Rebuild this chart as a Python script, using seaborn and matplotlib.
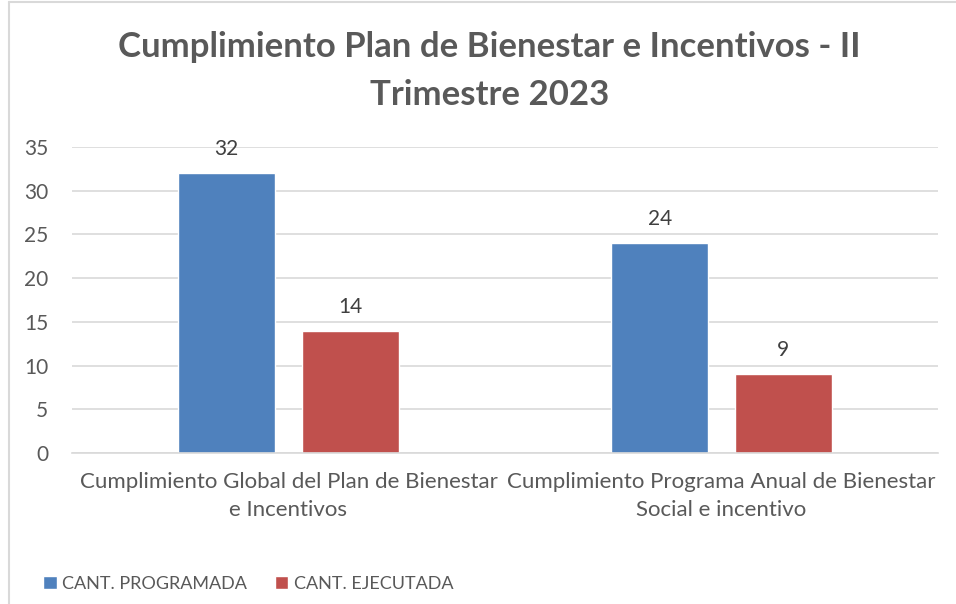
import matplotlib
matplotlib.use("Agg")
import matplotlib.pyplot as plt
import seaborn as sns
import pandas as pd
from matplotlib.patches import Patch
from matplotlib.lines import Line2D

categories = ["Cumplimiento Global del Plan de Bienestar\ne Incentivos",
              "Cumplimiento Programa Anual de Bienestar\nSocial e incentivo"]
series = ["CANT. PROGRAMADA", "CANT. EJECUTADA"]
programada = [32, 24]
ejecutada = [14, 9]
colors = ["#4F81BD", "#C0504D"]

df = pd.DataFrame({
    "cat": categories * 2,
    "serie": [series[0]] * 2 + [series[1]] * 2,
    "valor": programada + ejecutada,
})

sns.set_style("white")
plt.rcParams["font.family"] = ["Lato", "DejaVu Sans"]
txt = "#595959"

fig = plt.figure(figsize=(9.56, 6.04), dpi=100)
ax = fig.add_axes([0.0753, 0.25, 0.9057, 0.5066])

sns.barplot(data=df, x="cat", y="valor", hue="serie", palette=colors,
            width=0.57, gap=0.214, ax=ax, legend=False, saturation=1)

for c in ax.containers:
    ax.bar_label(c, padding=10, fontsize=15, color="#404040")

ax.set_ylim(0, 35)
ax.set_yticks(range(0, 36, 5))
ax.yaxis.grid(True, color="#D9D9D9", linewidth=1.2)
ax.set_axisbelow(True)
for s in ["left", "right", "top"]:
    ax.spines[s].set_visible(False)
ax.spines["bottom"].set_color("#D9D9D9")
ax.spines["bottom"].set_linewidth(1.2)
ax.tick_params(axis="x", length=0, labelsize=16, colors=txt, pad=14)
ax.tick_params(axis="y", length=0, labelsize=15, colors=txt, pad=17)
for lbl in ax.get_xticklabels():
    lbl.set_linespacing(1.45)
ax.set_xlabel("")
ax.set_ylabel("")

fig.text(0.512, 0.882, "Cumplimiento Plan de Bienestar e Incentivos - II\nTrimestre 2023",
         ha="center", va="center", fontsize=25, fontweight="bold", color=txt,
         linespacing=1.6)

handles = [Patch(facecolor=colors[0]), Patch(facecolor=colors[1])]
fig.legend(handles, series, loc="center left", bbox_to_anchor=(0.028, 0.033),
           ncol=2, frameon=False, fontsize=13, labelcolor=txt,
           handlelength=0.75, handleheight=0.75, handletextpad=0.3,
           columnspacing=1.55)

# chart border (left and top visible)
fig.add_artist(Line2D([0.009, 0.009], [0, 0.997], color="#D9D9D9", lw=1.5,
                      transform=fig.transFigure))
fig.add_artist(Line2D([0.009, 1.0], [0.997, 0.997], color="#D9D9D9", lw=1.5,
                      transform=fig.transFigure))

fig.savefig("out.png", dpi=100)
